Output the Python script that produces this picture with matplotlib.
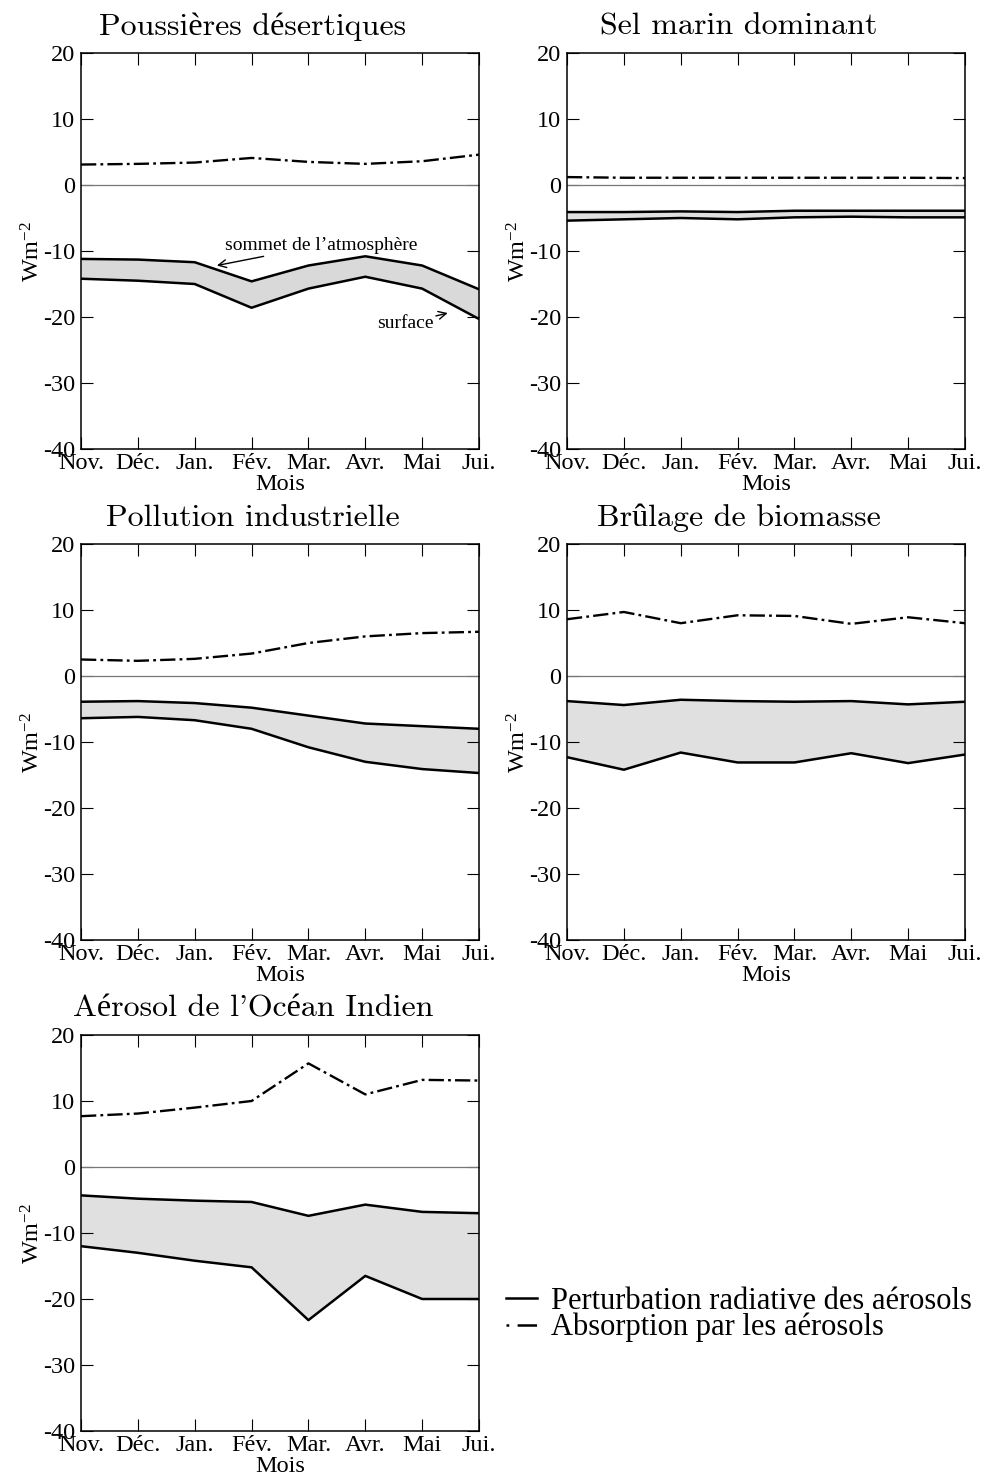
import numpy as np
import matplotlib
matplotlib.use("Agg")
import matplotlib.pyplot as plt

plt.rcParams['font.family'] = ['Liberation Serif', 'DejaVu Serif']
plt.rcParams['mathtext.fontset'] = 'custom'
plt.rcParams['mathtext.rm'] = 'Liberation Serif'
plt.rcParams['mathtext.it'] = 'Liberation Serif:italic'
plt.rcParams['axes.unicode_minus'] = False
plt.rcParams['lines.scale_dashes'] = False

months = ['Nov.', 'Déc.', 'Jan.', 'Fév.', 'Mar.', 'Avr.', 'Mai', 'Jui.']
titles = ['Poussières désertiques', 'Sel marin dominant', 'Pollution industrielle',
          'Brûlage de biomasse', "Aérosol de l'Océan Indien"]

# sommet de l'atmosphere (TOA)
toa_dust = [-11.2, -11.3, -11.7, -14.6, -12.2, -10.8, -12.2, -15.8]
toa_salt = [-4.1, -4.1, -4.0, -4.1, -3.9, -3.9, -3.9, -3.9]
toa_poll = [-3.9, -3.8, -4.1, -4.8, -6.0, -7.2, -7.6, -8.0]
toa_bio = [-3.8, -4.4, -3.6, -3.8, -3.9, -3.8, -4.3, -3.9]
toa_indo = [-4.3, -4.8, -5.1, -5.3, -7.4, -5.7, -6.8, -7.0]

# surface
srf_dust = [-14.2, -14.5, -15.0, -18.6, -15.7, -13.9, -15.7, -20.3]
srf_salt = [-5.4, -5.2, -5.0, -5.2, -4.9, -4.8, -4.9, -4.9]
srf_poll = [-6.4, -6.2, -6.7, -8.0, -10.8, -13.0, -14.1, -14.7]
srf_bio = [-12.3, -14.2, -11.6, -13.1, -13.1, -11.7, -13.2, -11.9]
srf_indo = [-12.0, -13.0, -14.2, -15.2, -23.2, -16.5, -20.0, -20.0]

# absorption
abs_dust = [3.1, 3.2, 3.4, 4.1, 3.5, 3.2, 3.6, 4.6]
abs_salt = [1.2, 1.1, 1.1, 1.1, 1.1, 1.1, 1.1, 1.05]
abs_poll = [2.5, 2.3, 2.6, 3.4, 5.0, 6.0, 6.5, 6.7]
abs_bio = [8.6, 9.7, 8.0, 9.2, 9.1, 7.9, 8.9, 8.0]
abs_indo = [7.7, 8.1, 9.0, 10.0, 15.7, 11.0, 13.2, 13.1]

toa_all = [toa_dust, toa_salt, toa_poll, toa_bio, toa_indo]
srf_all = [srf_dust, srf_salt, srf_poll, srf_bio, srf_indo]
abs_all = [abs_dust, abs_salt, abs_poll, abs_bio, abs_indo]
fill_colors = ['#d9d9d9', '#e0e0e0', '#e0e0e0', '#e0e0e0', '#e0e0e0']

W, H = 986, 1478
fig = plt.figure(figsize=(W / 100, H / 100), dpi=100)

lefts = [81, 567, 81, 567, 81]
tops = [53, 53, 544, 544, 1035]
aw, ah = 398, 396
dashdot = (0, (11, 3, 2, 3))

x = np.arange(len(months))
axes = []
for i in range(5):
    ax = fig.add_axes([lefts[i] / W, 1 - (tops[i] + ah) / H, aw / W, ah / H])
    axes.append(ax)
    ax.fill_between(x, toa_all[i], srf_all[i], color=fill_colors[i], lw=0, zorder=1)
    ax.axhline(0, color='#777777', lw=0.9, zorder=2)
    ax.plot(x, toa_all[i], color='black', lw=1.8, zorder=3)
    ax.plot(x, srf_all[i], color='black', lw=1.8, zorder=3)
    ax.plot(x, abs_all[i], color='black', lw=1.7, linestyle=dashdot, zorder=3)
    ax.set_xlim(0, 7)
    ax.set_ylim(-40, 20)
    ax.set_xticks(x)
    ax.set_xticklabels(months)
    ax.set_yticks([-40, -30, -20, -10, 0, 10, 20])
    ax.tick_params(direction='in', length=8.6, width=0.8, top=True, right=True,
                   labelsize=17.5, pad=4)
    ax.tick_params(axis='x', pad=3)
    for s in ax.spines.values():
        s.set_linewidth(1.1)
    ax.set_xlabel('Mois', fontsize=17.5, labelpad=0)
    ax.set_ylabel('Wm$^{-2}$', fontsize=17.5, labelpad=-1)
    ax.set_title(titles[i], fontsize=23, x=0.432, pad=13,
                 family=['cmr10', 'Liberation Serif'])

ax = axes[0]
ax.annotate("sommet de l’atmosphère", xy=(2.39, -12.2), xytext=(2.53, -9.1),
            fontsize=14, va='center', ha='left',
            arrowprops=dict(arrowstyle='->', color='black', lw=1.0,
                            shrinkA=0, shrinkB=0))
ax.annotate("surface", xy=(6.45, -19.4), xytext=(5.2, -21.0),
            fontsize=14, va='center', ha='left',
            arrowprops=dict(arrowstyle='->', color='black', lw=1.0,
                            shrinkA=0, shrinkB=0))

h1, = axes[4].plot([], [], color='black', lw=1.8)
h2, = axes[4].plot([], [], color='black', lw=1.8, linestyle=(0, (2, 6, 14, 3)))
fig.legend([h1, h2], ['Perturbation radiative des aérosols', 'Absorption par les aérosols'],
           loc='upper left', bbox_to_anchor=(506 / W, 1 - 1287 / H),
           frameon=False, fontsize=22, handlelength=1.0, handletextpad=0.48,
           labelspacing=-0.1, borderpad=0, borderaxespad=0)

fig.savefig('out.png', dpi=100)
